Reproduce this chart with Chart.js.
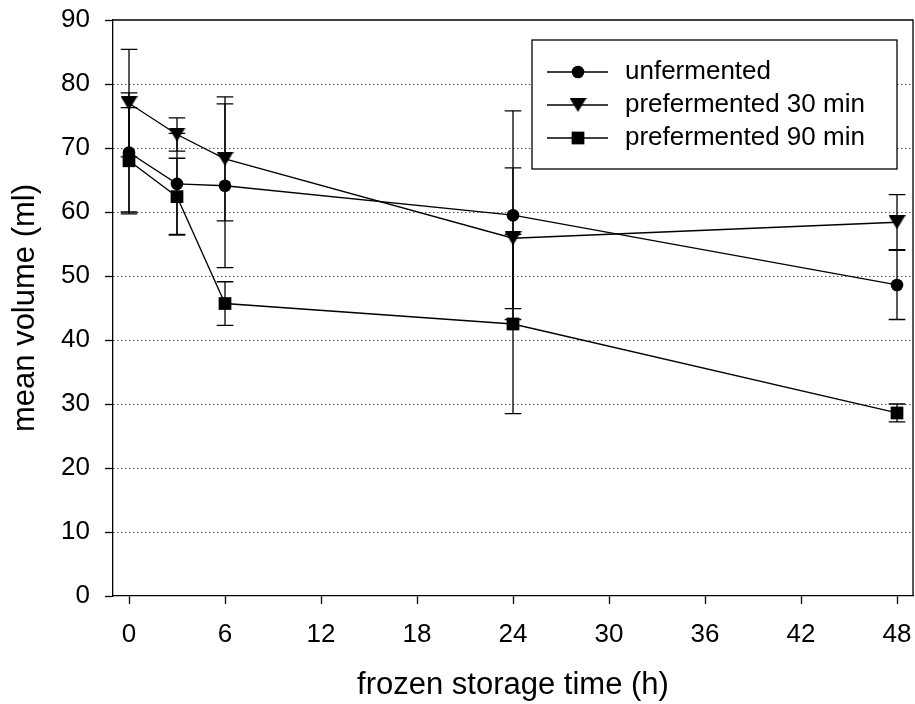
<!DOCTYPE html>
<html>
<head>
<meta charset="utf-8">
<script src="https://cdn.jsdelivr.net/npm/chart.js@4.4.1/dist/chart.umd.min.js"></script>
<style>
  html, body { margin: 0; padding: 0; background: #fff; }
  #wrap { width: 915px; height: 704px; }
</style>
</head>
<body>
<div id="wrap"><canvas id="volumeChart"></canvas></div>
<script>
// storage time (h) and mean loaf volume (ml) with standard deviations
const hours = [0, 3, 6, 24, 48];
const xTicks = [0, 6, 12, 18, 24, 30, 36, 42, 48];

const unfermented = [69.3, 64.4, 64.1, 59.5, 48.6];
const unfermentedSd = [9.3, 7.9, 12.8, 16.3, 5.4];

const pref30 = [77.0, 72.1, 68.3, 55.9, 58.4];
const pref30Sd = [8.4, 2.6, 9.7, 11.0, 4.3];

const pref90 = [68.0, 62.4, 45.7, 42.5, 28.6];
const pref90Sd = [8.3, 6.0, 3.4, 14.0, 1.4];

const seriesNames = ["unfermented", "prefermented 30 min", "prefermented 90 min"];

const FONT = "'Liberation Sans', Arial, Helvetica, sans-serif";
const INK = "#000";
const LW = 1.3;

Chart.defaults.font.family = FONT;
Chart.defaults.color = INK;

// filled downward triangle, centred on its bounding box
function downTriangle(w, h) {
  const c = document.createElement("canvas");
  c.width = w;
  c.height = h;
  const g = c.getContext("2d");
  g.fillStyle = INK;
  g.beginPath();
  g.moveTo(0, 0);
  g.lineTo(w, 0);
  g.lineTo(w / 2, h);
  g.closePath();
  g.fill();
  return c;
}
const triMarker = downTriangle(17, 14);

function series(label, values, sd, style, radius) {
  return {
    label: label,
    data: hours.map((h, i) => ({ x: h, y: values[i] })),
    sd: sd,
    borderColor: INK,
    backgroundColor: INK,
    borderWidth: LW,
    tension: 0,
    pointStyle: style,
    pointRadius: radius,
    pointHoverRadius: radius,
    pointBackgroundColor: INK,
    pointBorderColor: INK,
    pointBorderWidth: 0,
  };
}

// vertical error bars with caps, drawn under the symbols
const errorBars = {
  id: "errorBars",
  beforeDatasetsDraw(chart) {
    const { ctx, scales } = chart;
    const cap = 8.3;
    ctx.save();
    ctx.strokeStyle = INK;
    ctx.lineWidth = LW;
    chart.data.datasets.forEach((ds) => {
      ds.data.forEach((p, i) => {
        const x = scales.x.getPixelForValue(p.x);
        const top = scales.y.getPixelForValue(p.y + ds.sd[i]);
        const bot = scales.y.getPixelForValue(p.y - ds.sd[i]);
        ctx.beginPath();
        ctx.moveTo(x, top);
        ctx.lineTo(x, bot);
        ctx.moveTo(x - cap, top);
        ctx.lineTo(x + cap, top);
        ctx.moveTo(x - cap, bot);
        ctx.lineTo(x + cap, bot);
        ctx.stroke();
      });
    });
    ctx.restore();
  },
};

// closes the plot box on top and right
const frame = {
  id: "frame",
  afterDraw(chart) {
    const { ctx, chartArea: a } = chart;
    ctx.save();
    ctx.strokeStyle = INK;
    ctx.lineWidth = LW;
    ctx.beginPath();
    ctx.moveTo(a.left, a.top);
    ctx.lineTo(a.right, a.top);
    ctx.lineTo(a.right, a.bottom);
    ctx.stroke();
    ctx.restore();
  },
};

// boxed legend in the upper right corner of the plot
const boxLegend = {
  id: "boxLegend",
  afterDatasetsDraw(chart) {
    const { ctx, chartArea: a } = chart;
    const w = 365, h = 129;
    const left = a.right - 16 - w;
    const top = a.top + 20;
    ctx.save();
    ctx.fillStyle = "#fff";
    ctx.fillRect(left, top, w, h);
    ctx.strokeStyle = INK;
    ctx.lineWidth = LW;
    ctx.strokeRect(left, top, w, h);
    ctx.font = "26px " + FONT;
    ctx.textBaseline = "middle";
    ctx.textAlign = "left";
    chart.data.datasets.forEach((ds, i) => {
      const y = top + 32 + i * 33;
      ctx.strokeStyle = INK;
      ctx.fillStyle = INK;
      ctx.lineWidth = LW;
      ctx.beginPath();
      ctx.moveTo(left + 15, y);
      ctx.lineTo(left + 76, y);
      ctx.stroke();
      Chart.helpers.drawPoint(ctx, {
        pointStyle: ds.pointStyle,
        radius: ds.pointRadius,
        rotation: 0,
        borderWidth: 0,
      }, left + 46, y);
      ctx.fillStyle = INK;
      ctx.fillText(ds.label, left + 93, y);
    });
    ctx.restore();
  },
};

new Chart(document.getElementById("volumeChart"), {
  type: "line",
  data: {
    datasets: [
      series(seriesNames[0], unfermented, unfermentedSd, "circle", 6.3),
      series(seriesNames[1], pref30, pref30Sd, triMarker, 8),
      series(seriesNames[2], pref90, pref90Sd, "rect", 9),
    ],
  },
  options: {
    responsive: true,
    maintainAspectRatio: false,
    animation: false,
    events: [],
    layout: { autoPadding: false, padding: { top: 20, right: 2, left: 0, bottom: 0 } },
    plugins: {
      legend: { display: false },
      tooltip: { enabled: false },
    },
    scales: {
      x: {
        type: "linear",
        min: -1,
        max: 49,
        afterBuildTicks: (axis) => {
          axis.ticks = xTicks.map((v) => ({ value: v }));
        },
        afterFit: (axis) => {
          axis.height = 108;
          axis.paddingLeft = 0;
          axis.paddingRight = 0;
        },
        ticks: {
          color: INK,
          padding: 15,
          maxRotation: 0,
          font: { size: 26 },
        },
        grid: {
          drawOnChartArea: false,
          color: "transparent",
          tickColor: INK,
          tickLength: 8,
          tickWidth: LW,
        },
        border: { display: true, color: INK, width: LW },
        title: {
          display: true,
          text: "frozen storage time (h)",
          color: INK,
          font: { size: 31 },
          padding: { top: 0, bottom: 0 },
        },
      },
      y: {
        min: 0,
        max: 90,
        ticks: {
          stepSize: 10,
          color: INK,
          padding: 15,
          font: { size: 26 },
        },
        afterFit: (axis) => {
          axis.width = 113;
          axis.paddingTop = 0;
          axis.paddingBottom = 0;
        },
        grid: {
          color: (c) => (c.tick && (c.tick.value === 0 || c.tick.value === 90) ? "transparent" : INK),
          lineWidth: 1,
          tickColor: INK,
          tickLength: 8,
          tickWidth: LW,
          tickBorderDash: [],
        },
        border: { display: true, color: INK, width: LW, dash: [1, 3] },
        title: {
          display: true,
          text: "mean volume (ml)",
          color: INK,
          font: { size: 31 },
          padding: { top: 7, bottom: 0 },
        },
      },
    },
  },
  plugins: [errorBars, frame, boxLegend],
});
</script>
</body>
</html>
